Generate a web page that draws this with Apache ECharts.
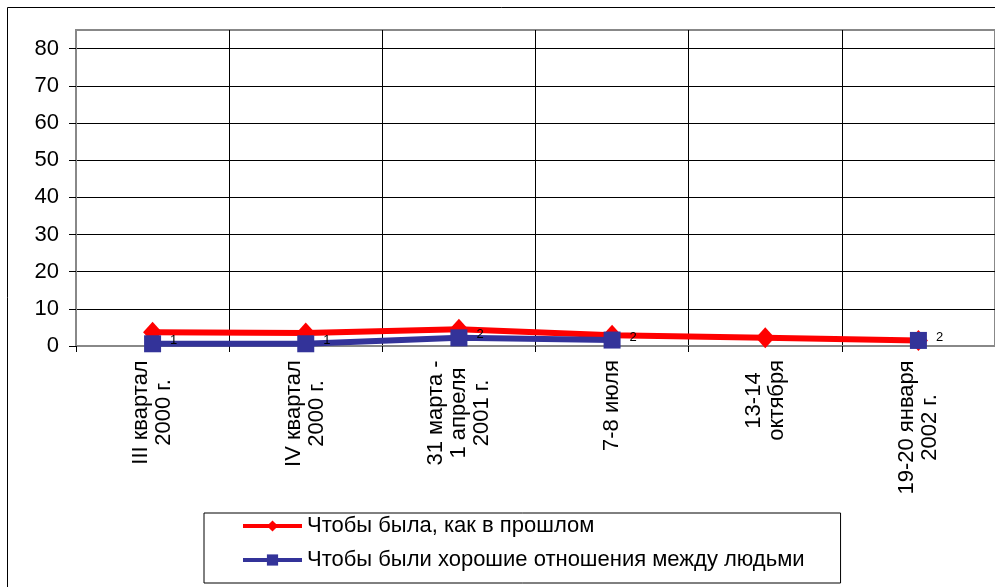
<!DOCTYPE html>
<html><head><meta charset="utf-8">
<script src="https://cdn.jsdelivr.net/npm/echarts@6/dist/echarts.min.js"></script>
<style>html,body{margin:0;padding:0;background:#fff}#c{width:995px;height:587px}</style>
</head><body><div id="c"></div>
<script>
var categories = ['III квартал\n2000 г.', 'IV квартал\n2000 г.', '31 марта -\n1 апреля\n2001 г.', '7-8 июля', '13-14\nоктября', '19-20 января\n2002 г.'];
var seriesNames = ['Чтобы была, как в прошлом', 'Чтобы были хорошие отношения между людьми'];
var redValues = [3.7, 3.5, 4.5, 2.9, 2.2, 1.5];
var blueValues = [0.6, 0.6, 2.2, 1.6, null, 1.5];
var yTicks = [0, 10, 20, 30, 40, 50, 60, 70, 80];

var font = '"Liberation Sans", Arial, sans-serif';
var labelSize = 22;

// measure each label's longest line so the lines can be centred on each other
var mctx = document.createElement('canvas').getContext('2d');
mctx.font = labelSize + 'px "Liberation Sans", Arial, sans-serif';
var categoryData = categories.map(function (c) {
  var m = 0;
  c.split('\n').forEach(function (s) { m = Math.max(m, mctx.measureText(s).width); });
  return {value: c, textStyle: {align: 'center', padding: [0, Math.ceil(m), 0, 0]}};
});

var chart = echarts.init(document.getElementById('c'), null, {renderer: 'canvas'});
chart.setOption({
  animation: false,
  backgroundColor: '#fff',
  graphic: [{type: 'rect', shape: {x: 7.5, y: 7.5, width: 1000, height: 600}, style: {fill: 'none', stroke: '#000', lineWidth: 1}, z: 0}],
  grid: {left: 76, top: 30, right: -4, bottom: 241, show: true, borderColor: '#888', borderWidth: 2, backgroundColor: 'transparent'},
  legend: {
    orient: 'vertical', left: 204, top: 513,
    padding: [2, 36, 12, 37], itemGap: 12,
    itemWidth: 59, itemHeight: 14,
    lineStyle: {width: 4},
    borderColor: '#000', borderWidth: 1, backgroundColor: '#fff',
    textStyle: {fontFamily: font, fontSize: labelSize, color: '#000', lineHeight: 22},
    data: seriesNames
  },
  xAxis: {
    type: 'category', data: categoryData, boundaryGap: true,
    axisLine: {lineStyle: {color: '#888', width: 2}},
    axisTick: {show: true, length: 6, lineStyle: {color: '#000'}},
    splitLine: {show: true, lineStyle: {color: '#000', width: 1}},
    axisLabel: {
      rotate: 90, margin: 14, interval: 0, color: '#000',
      fontFamily: font, fontSize: labelSize, lineHeight: 23
    }
  },
  yAxis: {
    type: 'value', min: 0, max: 85, interval: 10,
    axisLine: {show: true, lineStyle: {color: '#888', width: 2}},
    axisTick: {show: true, length: 7, lineStyle: {color: '#000'}},
    splitLine: {show: true, lineStyle: {color: ['#888', '#000', '#000', '#000', '#000', '#000', '#000', '#000', '#000', '#888'], width: 1}},
    axisLabel: {
      color: '#000', fontFamily: font, fontSize: labelSize, margin: 17, showMaxLabel: false,
      formatter: function (v) { return yTicks.indexOf(v) >= 0 ? String(v) : ''; }
    }
  },
  series: [
    {
      name: seriesNames[0], type: 'line', data: redValues,
      color: '#ff0000', symbol: 'diamond', symbolSize: [19, 21],
      lineStyle: {width: 6, color: '#ff0000'}, itemStyle: {color: '#ff0000'}, z: 3
    },
    {
      name: seriesNames[1], type: 'line', data: blueValues, connectNulls: false,
      color: '#333399', symbol: 'rect', symbolSize: 17,
      lineStyle: {width: 6, color: '#333399'}, itemStyle: {color: '#333399'}, z: 4,
      label: {
        show: true, position: 'right', distance: 9, offset: [0, -3],
        color: '#000', fontFamily: font, fontSize: 13,
        formatter: function (p) { return p.value == null ? '' : String(Math.round(p.value)); }
      }
    }
  ]
});
</script></body></html>
